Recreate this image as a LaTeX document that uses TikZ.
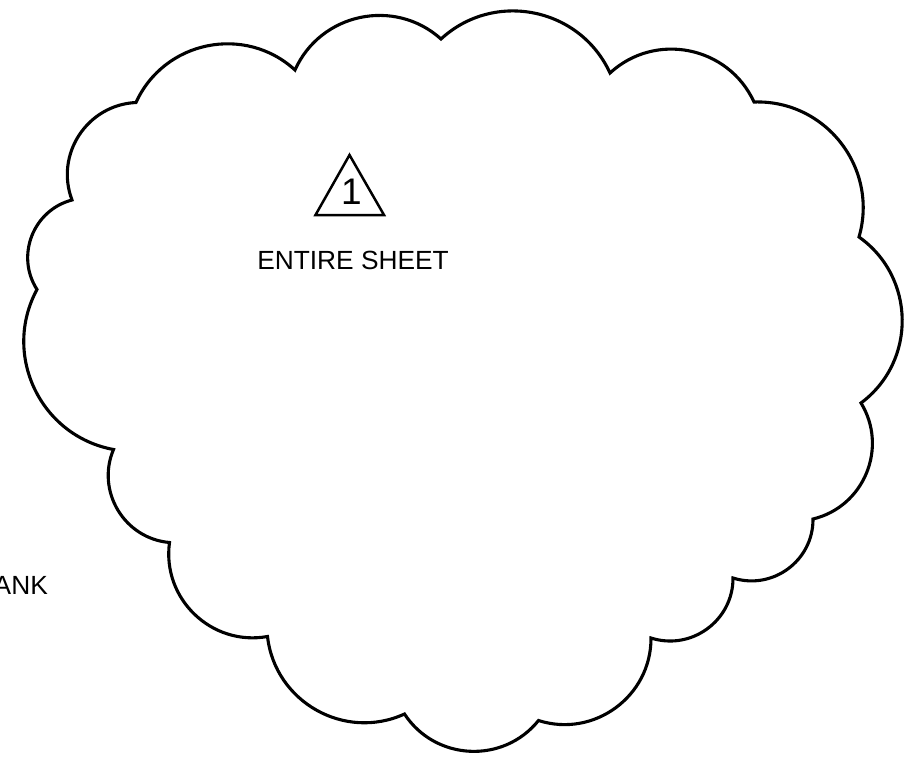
\documentclass[tikz,border=0pt]{standalone}
\usepackage{fontspec}
\setmainfont{Liberation Sans}
\tikzset{
  cloudline/.style={line width=3.1pt, line join=miter, miter limit=20},
  arcseg/.style={bend left=54, looseness=1.07},
  tri/.style={line width=2.5pt, line join=miter},
  lbl/.style={inner sep=0pt, font=\fontsize{26.3}{30}\selectfont},
  digit/.style={inner sep=0pt, font=\fontsize{37}{40}\selectfont},
}
\begin{document}
\begin{tikzpicture}[x=1pt,y=1pt]
\fill[white] (0,0) rectangle (915,-762);
\useasboundingbox (0,0) rectangle (915,-762);
% cloud cusps
\coordinate (c1)  at (441,-39);
\coordinate (c2)  at (610,-73);
\coordinate (c3)  at (754,-102);
\coordinate (c4)  at (859,-237);
\coordinate (c5)  at (861,-403);
\coordinate (c6)  at (813,-519);
\coordinate (c7)  at (733,-578);
\coordinate (c8)  at (651,-638);
\coordinate (c9)  at (538.5,-720.5);
\coordinate (c10) at (404.5,-714);
\coordinate (c11) at (267.5,-636.5);
\coordinate (c12) at (169.5,-542.5);
\coordinate (c13) at (113.5,-449.5);
\coordinate (c14) at (37,-289.5);
\coordinate (c15) at (72,-200);
\coordinate (c16) at (136,-102.5);
\coordinate (c17) at (295,-70);
\draw[cloudline] (c1) to[arcseg] (c2) to[arcseg] (c3) to[arcseg] (c4)
  to[arcseg] (c5) to[arcseg] (c6) to[arcseg] (c7) to[arcseg] (c8)
  to[arcseg] (c9) to[arcseg] (c10) to[arcseg] (c11) to[arcseg] (c12)
  to[arcseg] (c13) to[arcseg] (c14) to[arcseg] (c15) to[arcseg] (c16)
  to[arcseg] (c17) to[arcseg] (c1) -- cycle;
% revision triangle
\coordinate (ta) at (349.5,-155);
\coordinate (tl) at (315.5,-215);
\coordinate (tr) at (384,-215);
\draw[tri] (ta) -- (tl) -- (tr) -- cycle;
\node[digit] (num) at (351.3,-191.7) {1};
\node[lbl, anchor=base] (sheet) at (353,-269.3) {ENTIRE SHEET};
\node[lbl, anchor=base east] (blank) at (48,-594) {ANK};
\end{tikzpicture}
\end{document}
